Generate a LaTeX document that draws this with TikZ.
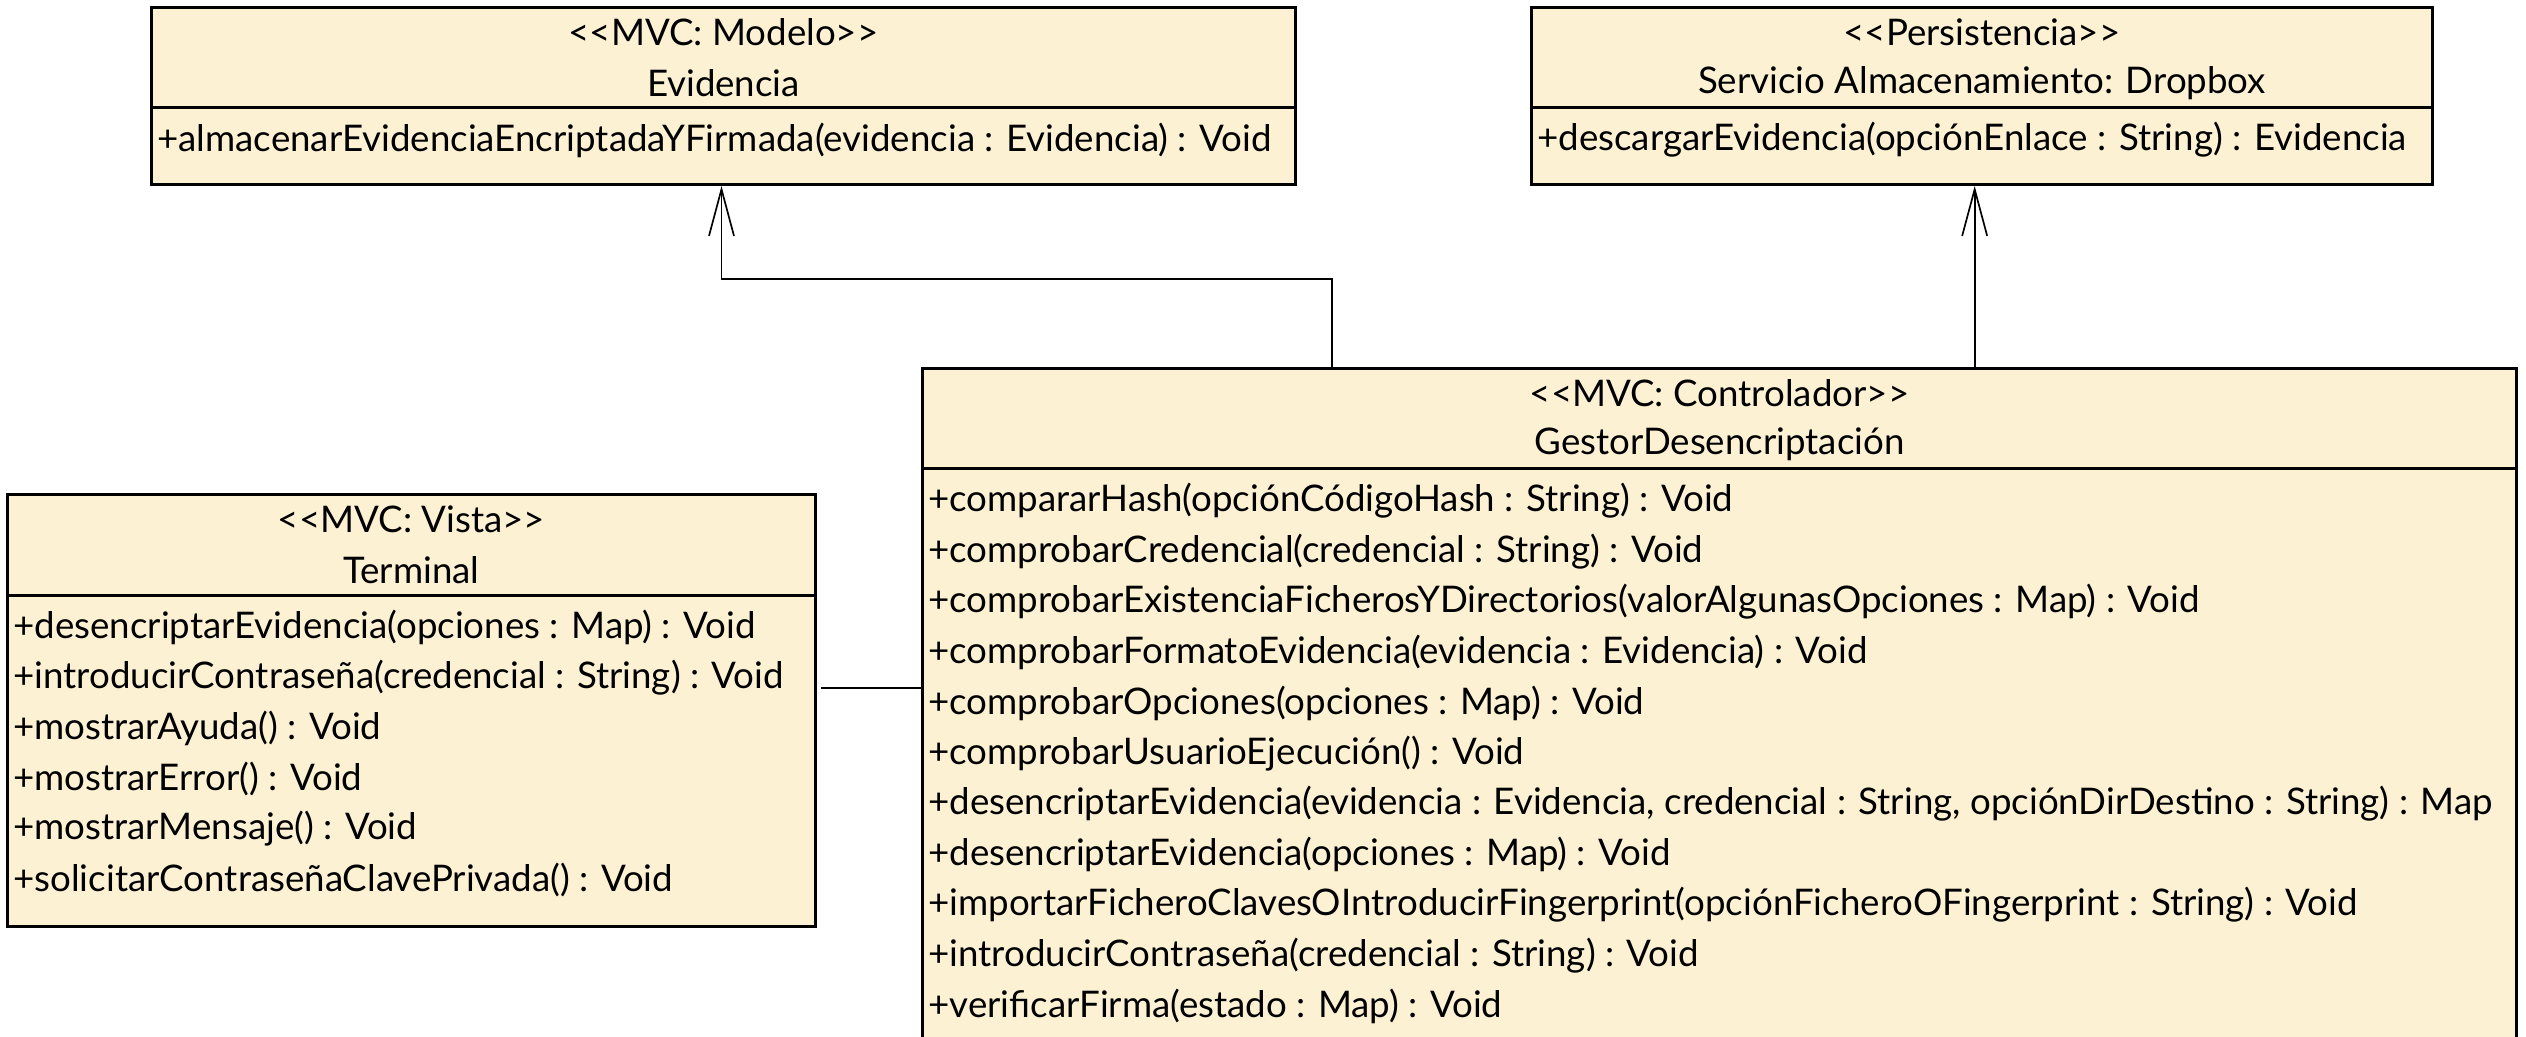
\documentclass[tikz,border=0pt]{standalone}
\usepackage{fontspec}
\setmainfont{Lato}
\usetikzlibrary{positioning,arrows.meta}

\definecolor{fondoclase}{HTML}{FDF1D4}
\newcommand{\estereotipo}[1]{<\kern0pt<#1>\kern0pt>}

\tikzset{
	clase/.style={draw, line width=0.9pt, fill=fondoclase, anchor=north west, inner sep=0pt},
	titulo/.style={inner sep=0pt, font=\fontsize{11}{13}\selectfont},
	metodo/.style={titulo, anchor=west},
	separador/.style={line width=0.9pt},
	asoc/.style={line width=0.5pt},
	uso/.style={asoc, -{Straight Barb[length=14pt,width=7.5pt]}}
}

\begin{document}
\begin{tikzpicture}[x=0.3pt, y=-0.3pt]
	\useasboundingbox (0,0) rectangle (2526,1037);
	\clip (0,0) rectangle (2526,1037);

	% Define nodes
	\node[clase, minimum width=343.2pt, minimum height=53.1pt] (evidencia) at (150,6) {};
	\node[clase, minimum width=270.3pt, minimum height=53.1pt] (dropbox) at (1530,6) {};
	\node[clase, minimum width=478.2pt, minimum height=230pt] (gestor) at (921,367) {};
	\node[clase, minimum width=242.4pt, minimum height=129.6pt] (terminal) at (6,493) {};

	% Compartments
	\foreach \c in {evidencia, dropbox, gestor, terminal}
		\draw[separador] ([yshift=-30.6pt]\c.north west) -- ([yshift=-30.6pt]\c.north east);

	% Titles
	\node[titulo] (evidenciaEst) at ([yshift=-7.8pt]evidencia.north) {\estereotipo{MVC: Modelo}};
	\node[titulo] (evidenciaNom) at ([yshift=-23.1pt]evidencia.north) {Evidencia};
	\node[titulo] (dropboxEst) at ([yshift=-7.8pt]dropbox.north) {\estereotipo{Persistencia}};
	\node[titulo] (dropboxNom) at ([yshift=-23.1pt]dropbox.north) {Servicio Almacenamiento: Dropbox};
	\node[titulo] (gestorEst) at ([yshift=-7.8pt]gestor.north) {\estereotipo{MVC: Controlador}};
	\node[titulo] (gestorNom) at ([yshift=-23.1pt]gestor.north) {GestorDesencriptación};
	\node[titulo] (terminalEst) at ([yshift=-7.8pt]terminal.north) {\estereotipo{MVC: Vista}};
	\node[titulo] (terminalNom) at ([yshift=-23.1pt]terminal.north) {Terminal};

	% Methods
	\node[metodo] (evidenciaM1) at ([xshift=2pt, yshift=-40.2pt]evidencia.north west) {+almacenarEvidenciaEncriptadaYFirmada(evidencia : Evidencia) : Void};
	\node[metodo] (dropboxM1) at ([xshift=2pt, yshift=-40.2pt]dropbox.north west) {+descargarEvidencia(opciónEnlace : String) : Evidencia};
	\foreach \m [count=\i] in {
		{+compararHash(opciónCódigoHash : String) : Void},
		{+comprobarCredencial(credencial : String) : Void},
		{+comprobarExistenciaFicherosYDirectorios(valorAlgunasOpciones : Map) : Void},
		{+comprobarFormatoEvidencia(evidencia : Evidencia) : Void},
		{+comprobarOpciones(opciones : Map) : Void},
		{+comprobarUsuarioEjecución() : Void},
		{+desencriptarEvidencia(evidencia : Evidencia, credencial : String, opciónDirDestino : String) : Map},
		{+desencriptarEvidencia(opciones : Map) : Void},
		{+importarFicheroClavesOIntroducirFingerprint(opciónFicheroOFingerprint : String) : Void},
		{+introducirContraseña(credencial : String) : Void},
		{+verificarFirma(estado : Map) : Void}}
		\node[metodo] (gestorM\i) at ([xshift=2pt, yshift={-40.2pt-(\i-1)*15.15pt}]gestor.north west) {\m};
	\foreach \m [count=\i] in {
		{+desencriptarEvidencia(opciones : Map) : Void},
		{+introducirContraseña(credencial : String) : Void},
		{+mostrarAyuda() : Void},
		{+mostrarError() : Void},
		{+mostrarMensaje() : Void},
		{+solicitarContraseñaClavePrivada() : Void}}
		\node[metodo] (terminalM\i) at ([xshift=2pt, yshift={-40.2pt-(\i-1)*15.15pt}]terminal.north west) {\m};

	% Connect the nodes
	\coordinate (enlace) at ([xshift=1.2pt, yshift=-58.5pt]terminal.north east);
	\draw[asoc] (enlace) -- (enlace -| gestor.west);
	\draw[uso] ([xshift=123.3pt]gestor.north west) -- ++(0,-88) -| ([xshift=-0.6pt]evidencia.south);
	\draw[uso] ([xshift=-2.2pt]gestor.north -| dropbox.south) -- ([xshift=-2.2pt]dropbox.south);
\end{tikzpicture}
\end{document}
